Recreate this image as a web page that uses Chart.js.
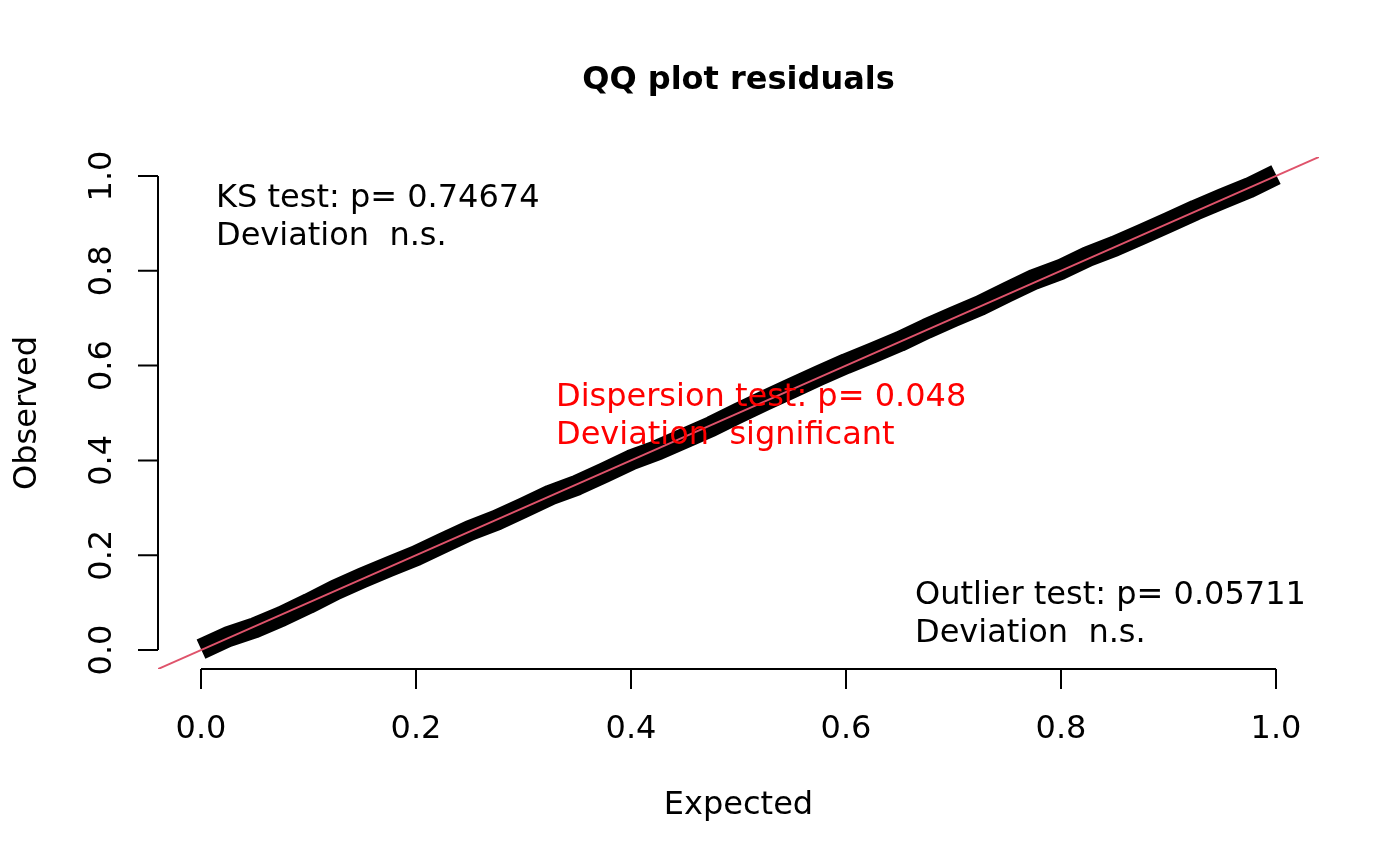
<!DOCTYPE html>
<html>
<head>
<meta charset="utf-8">
<script src="https://cdn.jsdelivr.net/npm/chart.js@4.4.1/dist/chart.umd.min.js"></script>
<style>
  body { margin: 0; background: #ffffff; }
  #qqChart { display: block; }
</style>
</head>
<body>
<canvas id="qqChart" width="1400" height="865"></canvas>
<script>
// QQ plot data - expected uniform quantiles vs observed scaled residuals
const expected = [0, 0.025, 0.05, 0.075, 0.1, 0.125, 0.15, 0.175, 0.2, 0.225, 0.25, 0.275, 0.3, 0.325, 0.35, 0.375, 0.4, 0.425, 0.45, 0.475, 0.5,
                  0.525, 0.55, 0.575, 0.6, 0.625, 0.65, 0.675, 0.7, 0.725, 0.75, 0.775, 0.8, 0.825, 0.85, 0.875, 0.9, 0.925, 0.95, 0.975, 1.0];
const observed = [0.002, 0.028, 0.047, 0.071, 0.098, 0.127, 0.152, 0.176, 0.199, 0.226, 0.252, 0.274, 0.300, 0.327, 0.348, 0.374, 0.401, 0.422, 0.447, 0.472, 0.500,
                  0.527, 0.553, 0.579, 0.604, 0.627, 0.651, 0.678, 0.703, 0.727, 0.755, 0.782, 0.803, 0.830, 0.852, 0.877, 0.902, 0.928, 0.952, 0.975, 1.003];
const diagonal = [-0.04, 1.04]; // y = x reference line, spans the whole plot region
const tickValues = [0, 0.2, 0.4, 0.6, 0.8, 1.0];
const tickLabels = ['0.0', '0.2', '0.4', '0.6', '0.8', '1.0'];

// test results printed inside the plot
const ksText = ['KS test: p= 0.74674', 'Deviation  n.s.'];
const dispersionText = ['Dispersion test: p= 0.048', 'Deviation  significant'];
const outlierText = ['Outlier test: p= 0.05711', 'Deviation  n.s.'];

const FONT = "'DejaVu Sans', sans-serif";

// draws R style axes, titles and the test annotations
const baseAxesPlugin = {
    id: 'baseAxes',
    afterDraw(chart) {
        const ctx = chart.ctx;
        const xs = chart.scales.x;
        const ys = chart.scales.y;
        const area = chart.chartArea;
        ctx.save();
        ctx.strokeStyle = '#000000';
        ctx.fillStyle = '#000000';
        ctx.lineWidth = 2;

        // x axis (bottom)
        const xAxisY = area.bottom;
        ctx.beginPath();
        ctx.moveTo(xs.getPixelForValue(tickValues[0]), xAxisY);
        ctx.lineTo(xs.getPixelForValue(tickValues[tickValues.length - 1]), xAxisY);
        tickValues.forEach(v => {
            const px = xs.getPixelForValue(v);
            ctx.moveTo(px, xAxisY);
            ctx.lineTo(px, xAxisY + 20);
        });
        ctx.stroke();
        ctx.font = '32px ' + FONT;
        ctx.textAlign = 'center';
        ctx.textBaseline = 'middle';
        tickValues.forEach((v, i) => ctx.fillText(tickLabels[i], xs.getPixelForValue(v), 730));

        // y axis (left)
        const yAxisX = area.left;
        ctx.beginPath();
        ctx.moveTo(yAxisX, ys.getPixelForValue(tickValues[0]));
        ctx.lineTo(yAxisX, ys.getPixelForValue(tickValues[tickValues.length - 1]));
        tickValues.forEach(v => {
            const py = ys.getPixelForValue(v);
            ctx.moveTo(yAxisX, py);
            ctx.lineTo(yAxisX - 20, py);
        });
        ctx.stroke();
        tickValues.forEach((v, i) => { // rotated labels, reading bottom to top
            ctx.save();
            ctx.translate(103, ys.getPixelForValue(v));
            ctx.rotate(-Math.PI / 2);
            ctx.fillText(tickLabels[i], 0, 0);
            ctx.restore();
        });

        // titles
        const midX = (area.left + area.right) / 2;
        ctx.font = 'bold 32px ' + FONT;
        ctx.fillText('QQ plot residuals', midX, 81);
        ctx.font = '32px ' + FONT;
        ctx.fillText('Expected', midX, 806);
        ctx.save();
        ctx.translate(28, (area.top + area.bottom) / 2);
        ctx.rotate(-Math.PI / 2);
        ctx.fillText('Observed', 0, 0);
        ctx.restore();

        // test annotations
        ctx.textAlign = 'left';
        const drawLines = (lines, x, y, color) => {
            ctx.fillStyle = color;
            lines.forEach((t, i) => ctx.fillText(t, x, y + i * 38));
        };
        drawLines(ksText, 216, 199, '#000000');
        drawLines(dispersionText, 556, 398, '#FF0000');
        drawLines(outlierText, 915, 596, '#000000');
        ctx.restore();
    }
};

document.addEventListener('DOMContentLoaded', () => {
    const ctx = document.getElementById('qqChart').getContext('2d');
    new Chart(ctx, {
        type: 'scatter',
        data: {
            datasets: [
                { // red y = x line on top of the points
                    data: diagonal.map(v => ({ x: v, y: v })),
                    showLine: true,
                    borderColor: '#DF536B',
                    borderWidth: 2,
                    pointRadius: 0,
                    order: 0
                },
                { // the dense cloud of residual points looks like one thick band
                    data: expected.map((e, i) => ({ x: e, y: observed[i] })),
                    showLine: true,
                    borderColor: '#000000',
                    borderWidth: 21,
                    borderCapStyle: 'butt',
                    borderJoinStyle: 'round',
                    pointRadius: 0,
                    order: 1
                }
            ]
        },
        options: {
            responsive: false,
            animation: false,
            devicePixelRatio: 1,
            layout: { padding: { left: 158, right: 81, top: 157, bottom: 196 } },
            scales: {
                x: { type: 'linear', min: -0.04, max: 1.04, display: false },
                y: { type: 'linear', min: -0.04, max: 1.04, display: false }
            },
            plugins: {
                legend: { display: false },
                tooltip: { enabled: false }
            }
        },
        plugins: [baseAxesPlugin]
    });
});
</script>
</body>
</html>
